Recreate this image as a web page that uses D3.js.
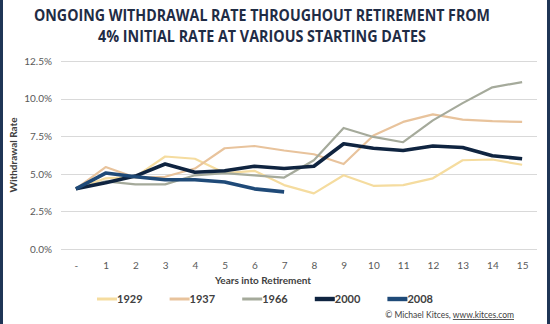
<!DOCTYPE html>
<html>
<head>
<meta charset="utf-8">
<script src="https://cdn.jsdelivr.net/npm/d3@7"></script>
<style>
  body { margin: 0; background: #fff; }
  svg { display: block; font-family: Lato, "Noto Sans", sans-serif; }
</style>
</head>
<body>
<div id="chart"></div>
<script>
// Data
const years = ["-", "1", "2", "3", "4", "5", "6", "7", "8", "9", "10", "11", "12", "13", "14", "15"];
const yTicks = [0, 0.025, 0.05, 0.075, 0.10, 0.125];
const seriesNames = ["1929", "1937", "1966", "2000", "2008"];
const s1929 = [4.0, 4.7, 4.8, 6.15, 6.0, 5.05, 5.2, 4.25, 3.7, 4.9, 4.2, 4.25, 4.7, 5.9, 5.95, 5.6];
const s1937 = [4.0, 5.45, 4.75, 4.8, 5.35, 6.7, 6.85, 6.55, 6.3, 5.65, 7.55, 8.45, 8.95, 8.6, 8.5, 8.45];
const s1966 = [4.0, 4.5, 4.3, 4.3, 4.9, 5.05, 4.9, 4.75, 5.9, 8.05, 7.45, 7.1, 8.55, 9.7, 10.75, 11.1];
const s2000 = [4.0, 4.4, 4.85, 5.65, 5.1, 5.2, 5.5, 5.35, 5.5, 7.0, 6.7, 6.55, 6.85, 6.75, 6.2, 6.0];
const s2008 = [4.0, 5.05, 4.8, 4.6, 4.6, 4.45, 4.0, 3.8];

const colors = ["#f5dc9f", "#e8c39c", "#a5aa9b", "#0f2440", "#1f4a78"];
const widths = [2.2, 2.2, 2.2, 3.6, 3.6];

const series = [s1929, s1937, s1966, s2000, s2008].map((vals, i) => ({
  name: seriesNames[i],
  color: colors[i],
  width: widths[i],
  values: vals.map((v, j) => ({year: years[j], value: v / 100}))
}));

const W = 550, H = 324;
const svg = d3.select("#chart").append("svg")
  .attr("width", W)
  .attr("height", H);

// frame stripes
svg.append("rect").attr("x", 0).attr("y", 0).attr("width", 3).attr("height", H).attr("fill", "#1f3556");
svg.append("rect").attr("x", 547).attr("y", 0).attr("width", 3).attr("height", H).attr("fill", "#1f3556");

// Title
const title = svg.append("g")
  .attr("font-family", "'Open Sans', 'Noto Sans', sans-serif")
  .attr("font-weight", 700)
  .attr("fill", "#1f2c45")
  .attr("font-size", 15.5)
  .attr("text-anchor", "middle");
title.append("text").attr("x", 262).attr("y", 21)
  .attr("textLength", 456).attr("lengthAdjust", "spacingAndGlyphs")
  .text("ONGOING WITHDRAWAL RATE THROUGHOUT RETIREMENT FROM");
title.append("text").attr("x", 262).attr("y", 42)
  .attr("textLength", 328).attr("lengthAdjust", "spacingAndGlyphs")
  .text("4% INITIAL RATE AT VARIOUS STARTING DATES");

// Scales
const x = d3.scalePoint()
  .domain(years)
  .range([61, 537])
  .padding(0.5);

const y = d3.scaleLinear()
  .domain([0, 0.125])
  .range([249, 61]);

// Gridlines
svg.append("g")
  .selectAll("line")
  .data(yTicks)
  .join("line")
  .attr("x1", 61)
  .attr("x2", 537)
  .attr("y1", d => Math.round(y(d)) + 0.5)
  .attr("y2", d => Math.round(y(d)) + 0.5)
  .attr("stroke", "#d9d9d9")
  .attr("stroke-width", 1);

// Y axis labels
const yAxis = svg.append("g")
  .attr("transform", "translate(61,0)")
  .call(d3.axisLeft(y).tickValues(yTicks).tickFormat(d3.format(".1%")).tickSize(0).tickPadding(9));
yAxis.select(".domain").remove();
yAxis.selectAll("text").attr("fill", "#595959").attr("font-size", 10).attr("font-family", "Lato, sans-serif");

// X axis labels
const xAxis = svg.append("g")
  .attr("transform", "translate(0,257)")
  .call(d3.axisBottom(x).tickSize(0).tickPadding(5));
xAxis.select(".domain").remove();
xAxis.selectAll("text").attr("fill", "#595959").attr("font-size", 10).attr("font-family", "Lato, sans-serif");

// Axis titles
svg.append("text")
  .attr("transform", "translate(17,155) rotate(-90)")
  .attr("text-anchor", "middle")
  .attr("font-size", 10)
  .attr("font-weight", 700)
  .attr("fill", "#404040")
  .text("Withdrawal Rate");

svg.append("text")
  .attr("x", 263)
  .attr("y", 284)
  .attr("text-anchor", "middle")
  .attr("font-size", 10)
  .attr("font-weight", 700)
  .attr("fill", "#404040")
  .text("Years into Retirement");

// Lines
const line = d3.line()
  .x(d => x(d.year))
  .y(d => y(d.value));

svg.append("g")
  .selectAll("path")
  .data(series)
  .join("path")
  .attr("d", d => line(d.values))
  .attr("fill", "none")
  .attr("stroke", d => d.color)
  .attr("stroke-width", d => d.width)
  .attr("stroke-linejoin", "round");

// Legend
const legend = svg.append("g")
  .selectAll("g")
  .data(series)
  .join("g")
  .attr("transform", (d, i) => `translate(${97 + i * 72.6},299)`);

legend.append("line")
  .attr("x1", 0)
  .attr("x2", 20)
  .attr("stroke", d => d.color)
  .attr("stroke-width", d => d.width + 0.8);

legend.append("text")
  .attr("x", 20)
  .attr("y", 4)
  .attr("font-size", 11)
  .attr("font-weight", 700)
  .attr("fill", "#404040")
  .text(d => d.name);

// Credit
const credit = svg.append("text")
  .attr("x", 514)
  .attr("y", 318)
  .attr("text-anchor", "end")
  .attr("font-size", 8.5)
  .attr("fill", "#404040");
credit.append("tspan").text("© Michael Kitces, ");
credit.append("tspan").attr("text-decoration", "underline").text("www.kitces.com");
</script>
</body>
</html>
